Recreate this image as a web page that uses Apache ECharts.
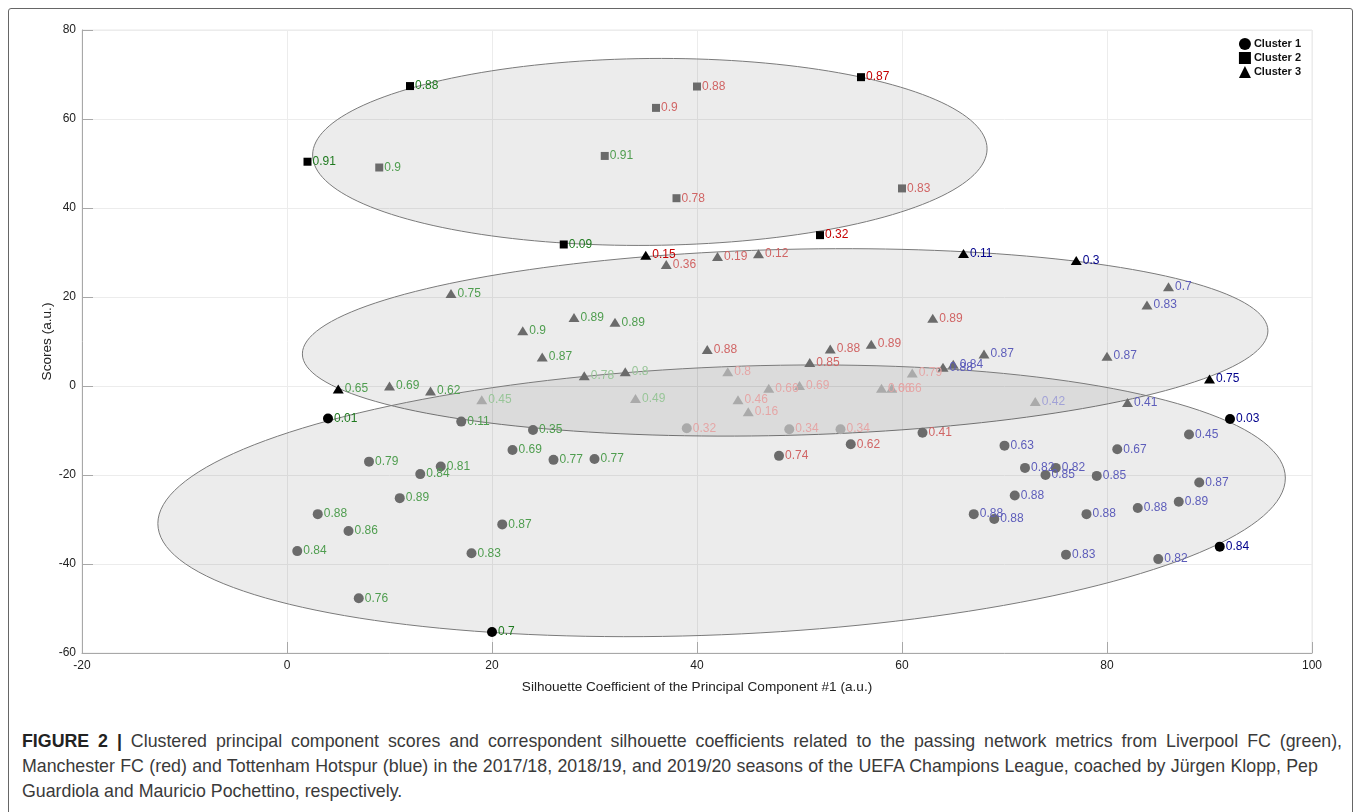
<!DOCTYPE html>
<html>
<head>
<meta charset="utf-8">
<script src="https://cdn.jsdelivr.net/npm/echarts@6/dist/echarts.min.js"></script>
<style>
  html, body { margin: 0; padding: 0; background: #fff; width: 1363px; height: 812px; overflow: hidden; }
  #frame { position: absolute; left: 8px; top: 8px; width: 1345px; height: 830px; border: 1.5px solid #666; border-radius: 3px; box-sizing: border-box; }
  #chart { position: absolute; left: 0; top: 0; width: 1363px; height: 720px; }
  #caption { position: absolute; left: 22px; top: 729px; font-family: "Liberation Sans", Arial, Helvetica, sans-serif; font-size: 17.8px; line-height: 25px; color: #3a3a3a; white-space: nowrap; }
  #caption .l1 { word-spacing: 4px; }
  #caption .l2 { word-spacing: 0.4px; }
  #caption b { color: #222; }
</style>
</head>
<body>
<div id="frame"></div>
<div id="chart"></div>
<div id="caption"><span class="l1"><b>FIGURE 2 |</b> Clustered principal component scores and correspondent silhouette coefficients related to the passing network metrics from Liverpool FC (green),</span><br><span class="l2">Manchester FC (red) and Tottenham Hotspur (blue) in the 2017/18, 2018/19, and 2019/20 seasons of the UEFA Champions League, coached by Jürgen Klopp, Pep</span><br>Guardiola and Mauricio Pochettino, respectively.</div>
<script>
// Rows: [x, y, silhouette label, team (L=Liverpool, M=Manchester, T=Tottenham), marker tone, label tone]
// tones: k = black (centroid-like), d = dark gray, l = light gray
const cluster1 = [
  [4.0, -7.3, '0.01', 'L', 'k', 'k'],
  [17.0, -8.0, '0.11', 'L', 'd', 'd'],
  [24.0, -9.9, '0.35', 'L', 'd', 'd'],
  [22.0, -14.4, '0.69', 'L', 'd', 'd'],
  [26.0, -16.6, '0.77', 'L', 'd', 'd'],
  [30.0, -16.4, '0.77', 'L', 'd', 'd'],
  [8.0, -17.0, '0.79', 'L', 'd', 'd'],
  [15.0, -18.1, '0.81', 'L', 'd', 'd'],
  [13.0, -19.8, '0.84', 'L', 'd', 'd'],
  [11.0, -25.2, '0.89', 'L', 'd', 'd'],
  [3.0, -28.8, '0.88', 'L', 'd', 'd'],
  [6.0, -32.6, '0.86', 'L', 'd', 'd'],
  [1.0, -37.1, '0.84', 'L', 'd', 'd'],
  [18.0, -37.6, '0.83', 'L', 'd', 'd'],
  [21.0, -31.1, '0.87', 'L', 'd', 'd'],
  [7.0, -47.7, '0.76', 'L', 'd', 'd'],
  [20.0, -55.3, '0.7', 'L', 'k', 'k'],
  [39.0, -9.5, '0.32', 'M', 'l', 'l'],
  [49.0, -9.7, '0.34', 'M', 'l', 'l'],
  [54.0, -9.7, '0.34', 'M', 'l', 'l'],
  [55.0, -13.1, '0.62', 'M', 'd', 'd'],
  [48.0, -15.7, '0.74', 'M', 'd', 'd'],
  [62.0, -10.5, '0.41', 'M', 'd', 'd'],
  [70.0, -13.4, '0.63', 'T', 'd', 'd'],
  [81.0, -14.2, '0.67', 'T', 'd', 'd'],
  [88.0, -10.9, '0.45', 'T', 'd', 'd'],
  [92.0, -7.4, '0.03', 'T', 'k', 'k'],
  [72.0, -18.4, '0.82', 'T', 'd', 'd'],
  [75.0, -18.4, '0.82', 'T', 'd', 'd'],
  [74.0, -20.0, '0.85', 'T', 'd', 'd'],
  [79.0, -20.2, '0.85', 'T', 'd', 'd'],
  [89.0, -21.7, '0.87', 'T', 'd', 'd'],
  [71.0, -24.6, '0.88', 'T', 'd', 'd'],
  [87.0, -26.0, '0.89', 'T', 'd', 'd'],
  [83.0, -27.4, '0.88', 'T', 'd', 'd'],
  [67.0, -28.8, '0.88', 'T', 'd', 'd'],
  [69.0, -29.9, '0.88', 'T', 'd', 'd'],
  [78.0, -28.8, '0.88', 'T', 'd', 'd'],
  [76.0, -37.9, '0.83', 'T', 'd', 'd'],
  [85.0, -38.9, '0.82', 'T', 'd', 'd'],
  [91.0, -36.1, '0.84', 'T', 'k', 'k']
];
const cluster2 = [
  [12.0, 67.4, '0.88', 'L', 'k', 'k'],
  [2.0, 50.4, '0.91', 'L', 'k', 'k'],
  [9.0, 49.1, '0.9', 'L', 'd', 'd'],
  [31.0, 51.7, '0.91', 'L', 'd', 'd'],
  [27.0, 31.8, '0.09', 'L', 'k', 'k'],
  [36.0, 62.5, '0.9', 'M', 'd', 'd'],
  [40.0, 67.3, '0.88', 'M', 'd', 'd'],
  [56.0, 69.4, '0.87', 'M', 'k', 'k'],
  [38.0, 42.2, '0.78', 'M', 'd', 'd'],
  [60.0, 44.4, '0.83', 'M', 'd', 'd'],
  [52.0, 33.9, '0.32', 'M', 'k', 'k']
];
const cluster3 = [
  [16.0, 20.8, '0.75', 'L', 'd', 'd'],
  [5.0, -0.7, '0.65', 'L', 'k', 'd'],
  [10.0, 0.0, '0.69', 'L', 'd', 'd'],
  [14.0, -1.1, '0.62', 'L', 'd', 'd'],
  [19.0, -3.1, '0.45', 'L', 'l', 'l'],
  [23.0, 12.4, '0.9', 'L', 'd', 'd'],
  [28.0, 15.4, '0.89', 'L', 'd', 'd'],
  [32.0, 14.3, '0.89', 'L', 'd', 'd'],
  [24.9, 6.5, '0.87', 'L', 'd', 'd'],
  [29.0, 2.3, '0.78', 'L', 'd', 'l'],
  [33.0, 3.2, '0.8', 'L', 'd', 'l'],
  [34.0, -2.8, '0.49', 'L', 'l', 'l'],
  [35.0, 29.4, '0.15', 'M', 'k', 'k'],
  [37.0, 27.3, '0.36', 'M', 'd', 'd'],
  [42.0, 29.1, '0.19', 'M', 'd', 'd'],
  [46.0, 29.7, '0.12', 'M', 'd', 'd'],
  [41.0, 8.2, '0.88', 'M', 'd', 'd'],
  [43.0, 3.2, '0.8', 'M', 'l', 'l'],
  [47.0, -0.5, '0.66', 'M', 'l', 'l'],
  [50.0, 0.1, '0.69', 'M', 'l', 'l'],
  [44.0, -3.1, '0.46', 'M', 'l', 'l'],
  [45.0, -5.8, '0.16', 'M', 'l', 'l'],
  [51.0, 5.3, '0.85', 'M', 'd', 'd'],
  [53.0, 8.3, '0.88', 'M', 'd', 'd'],
  [57.0, 9.4, '0.89', 'M', 'd', 'd'],
  [58.0, -0.5, '0.66', 'M', 'l', 'l'],
  [59.0, -0.5, '0.66', 'M', 'l', 'l'],
  [61.0, 2.9, '0.79', 'M', 'l', 'l'],
  [63.0, 15.2, '0.89', 'M', 'd', 'd'],
  [66.0, 29.8, '0.11', 'T', 'k', 'k'],
  [77.0, 28.2, '0.3', 'T', 'k', 'k'],
  [86.0, 22.3, '0.7', 'T', 'd', 'd'],
  [83.9, 18.2, '0.83', 'T', 'd', 'd'],
  [68.0, 7.2, '0.87', 'T', 'd', 'd'],
  [80.0, 6.7, '0.87', 'T', 'd', 'd'],
  [64.0, 4.2, '0.88', 'T', 'd', 'd'],
  [65.0, 4.9, '0.84', 'T', 'd', 'd'],
  [73.0, -3.5, '0.42', 'T', 'l', 'l'],
  [82.0, -3.7, '0.41', 'T', 'd', 'd'],
  [90.0, 1.6, '0.75', 'T', 'k', 'k']
];
// Cluster ellipses in data units: [centre x, centre y, half-width, half-height, shear (dy per dx)]
const ellipses = [
  [35.4, 52.6, 32.9, 21.0, 0.021],
  [48.6, 9.8, 47.1, 20.9, 0.055],
  [42.4, -25.8, 55.0, 30.1, 0.093]
];
const clusterNames = ['Cluster 1', 'Cluster 2', 'Cluster 3'];
const xTicks = { min: -20, max: 100, step: 20 };
const yTicks = { min: -60, max: 80, step: 20 };

const markerColors = { k: '#000000', d: '#6b6b6b', l: '#aaaaaa' };
const labelColors = {
  L: { k: '#1f7a1f', d: '#4f9d4f', l: '#98c598' },
  M: { k: '#c40000', d: '#d06565', l: '#e4a6a6' },
  T: { k: '#00008b', d: '#5d5dba', l: '#a2a2d6' }
};

function toItems(rows) {
  return rows.map(r => ({
    name: r[2],
    value: [r[0], r[1]],
    itemStyle: { color: markerColors[r[4]] },
    label: { color: labelColors[r[3]][r[5]] }
  }));
}

const FONT = '"Liberation Sans", Arial, Helvetica, sans-serif';
const chart = echarts.init(document.getElementById('chart'), null, { renderer: 'canvas' });

function scatterSeries(name, rows, symbol, size) {
  return {
    name: name,
    type: 'scatter',
    symbol: symbol,
    symbolSize: size,
    z: 3,
    itemStyle: { color: '#000', opacity: 1 },
    label: {
      show: true, position: 'right', distance: 1, formatter: '{b}',
      fontSize: 12, fontFamily: FONT
    },
    emphasis: { disabled: true },
    data: toItems(rows)
  };
}

chart.setOption({
  animation: false,
  backgroundColor: 'transparent',
  grid: { left: 82, right: 51, top: 30, bottom: 67, show: true, borderColor: '#e8e8e8', borderWidth: 1, backgroundColor: 'transparent' },
  legend: {
    data: clusterNames,
    orient: 'vertical',
    right: 58,
    top: 36,
    itemWidth: 12,
    itemHeight: 12,
    itemGap: 2,
    padding: [2, 4],
    textStyle: { fontFamily: FONT, fontSize: 11, fontWeight: 'bold', color: '#111', padding: [0, 0, 0, -2] },
    backgroundColor: '#fff',
    selectedMode: false
  },
  xAxis: {
    type: 'value', min: xTicks.min, max: xTicks.max, interval: xTicks.step,
    name: 'Silhouette Coefficient of the Principal Component #1 (a.u.)',
    nameLocation: 'middle', nameGap: 27,
    nameTextStyle: { fontFamily: FONT, fontSize: 13.6, color: '#222' },
    axisLine: { show: true, onZero: false, lineStyle: { color: '#a8a8a8', width: 1 } },
    axisTick: { show: true, inside: true, length: 11, lineStyle: { color: '#a8a8a8' } },
    axisLabel: { fontFamily: FONT, fontSize: 12, color: '#222', margin: 7 },
    splitLine: { show: true, lineStyle: { color: '#ececec', width: 1 } }
  },
  yAxis: {
    type: 'value', min: yTicks.min, max: yTicks.max, interval: yTicks.step,
    name: 'Scores (a.u.)',
    nameLocation: 'middle', nameGap: 28, nameRotate: 90, nameMoveOverlap: false,
    nameTextStyle: { fontFamily: FONT, fontSize: 13.6, color: '#222' },
    axisLine: { show: true, onZero: false, lineStyle: { color: '#a8a8a8', width: 1 } },
    axisTick: { show: true, inside: true, length: 11, lineStyle: { color: '#a8a8a8' } },
    axisLabel: { fontFamily: FONT, fontSize: 12, color: '#222', margin: 6 },
    splitLine: { show: true, lineStyle: { color: '#ececec', width: 1 } }
  },
  series: [
    {
      type: 'custom',
      name: 'ellipses',
      silent: true,
      z: 1,
      encode: { x: 0, y: 1 },
      data: ellipses,
      clip: true,
      renderItem: function (params, api) {
        const cx = api.value(0), cy = api.value(1), rx = api.value(2), ry = api.value(3), k = api.value(4);
        const pts = [];
        const N = 180;
        for (let i = 0; i < N; i++) {
          const t = 2 * Math.PI * i / N;
          const dx = rx * Math.cos(t);
          pts.push(api.coord([cx + dx, cy + k * dx + ry * Math.sin(t)]));
        }
        return {
          type: 'polygon',
          shape: { points: pts },
          style: { fill: 'rgba(0,0,0,0.075)', stroke: '#7a7a7a', lineWidth: 1 }
        };
      }
    },
    scatterSeries(clusterNames[0], cluster1, 'circle', 10),
    scatterSeries(clusterNames[1], cluster2, 'rect', 8),
    scatterSeries(clusterNames[2], cluster3, 'triangle', [11, 9])
  ]
});
</script>
</body>
</html>
